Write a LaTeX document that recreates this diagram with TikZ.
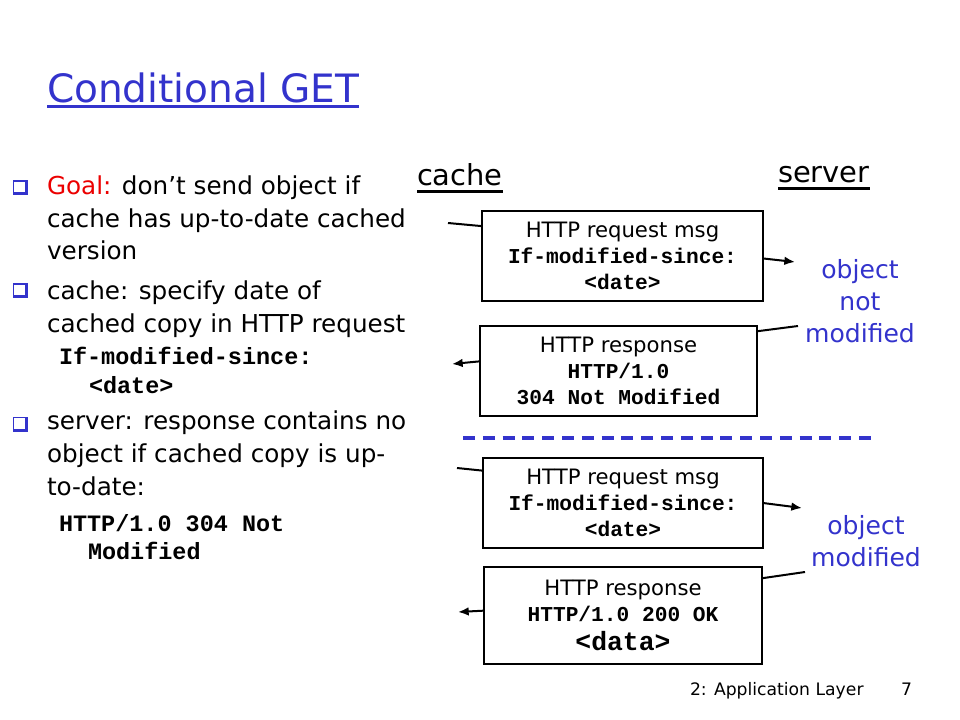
\documentclass[tikz,border=0pt]{standalone}
\usepackage{fontspec}
\setmainfont{DejaVu Sans}
\setmonofont{Liberation Mono}
\usetikzlibrary{arrows.meta}
\definecolor{slideblue}{RGB}{51,51,204}
\definecolor{slidered}{RGB}{235,0,0}

\begin{document}
\begin{tikzpicture}
  [x=0.75pt,y=-0.75pt,every node/.style={inner sep=0pt,outer sep=0pt},
   body/.style={anchor=base west,align=left,font=\fontsize{18.5}{24.4}\selectfont},
   code/.style={anchor=base west,font=\fontsize{17.6}{21}\selectfont\ttfamily\bfseries},
   head/.style={anchor=base west,font=\fontsize{21.7}{26}\selectfont},
   msgbox/.style={draw,line width=0.9pt,align=center,font=\fontsize{15.9}{19.5}\selectfont},
   note/.style={text=slideblue,align=center,font=\fontsize{18.8}{24}\selectfont},
   link/.style={line width=1.5pt},
   arrow/.style={line width=1.5pt,-{Latex[length=8pt,width=6.5pt]}}]
  \useasboundingbox (0,0) rectangle (960,720);

  \node (title)[anchor=base west,text=slideblue,font=\fontsize{29.3}{34}\selectfont] at (47,103) {Conditional GET};
  \draw[slideblue,line width=2.25pt] ([yshift=-3pt]title.base west) -- ([yshift=-3pt]title.base east);

  % bullets
  \foreach \y in {188,291,424} {
    \fill[slideblue] (12.5,\y-7.5) rectangle (27.5,\y+7.5);
    \fill[white] (14,\y-6) rectangle (24.5,\y+4.5);
  }
  % base of a multi-line node is its last line
  \node (goal)[body] at (47,260) {\textcolor{slidered}{Goal:} don’t send object if\\cache has up-to-date cached\\version};
  \node (spec)[body] at (47,332) {cache: specify date of\\cached copy in HTTP request};
  \node (ims)[code] at (59,364) {If-modified-since:};
  \node (imsd)[code] at (89,393) {<date>};
  \node (resp)[body] at (47,495) {server: response contains no\\object if cached copy is up-\\to-date:};
  \node (nm)[code] at (59,531) {HTTP/1.0 304 Not};
  \node (nmd)[code] at (88,559) {Modified};

  \node (cache)[head] at (417,186) {cache};
  \node (server)[head] at (778,183) {server};
  \draw[line width=1.9pt] ([yshift=-4pt]cache.base west) -- ([yshift=-4pt]cache.base east);
  \draw[line width=1.9pt] ([yshift=-4pt]server.base west) -- ([yshift=-4pt]server.base east);

  \node (req1)[msgbox,minimum width=210.75pt,minimum height=67.5pt] at (622.5,256)
    {HTTP request msg\\{\ttfamily\bfseries If-modified-since:}\\{\ttfamily\bfseries <date>}};
  \node (resp1)[msgbox,minimum width=207.75pt,minimum height=67.5pt] at (618.5,371)
    {HTTP response\\{\ttfamily\bfseries HTTP/1.0}\\{\ttfamily\bfseries 304 Not Modified}};
  \node (req2)[msgbox,minimum width=210pt,minimum height=67.5pt] at (623,503)
    {HTTP request msg\\{\ttfamily\bfseries If-modified-since:}\\{\ttfamily\bfseries <date>}};
  \node (resp2)[msgbox,minimum width=208.5pt,minimum height=72.75pt] at (623,615.5)
    {HTTP response\\{\ttfamily\bfseries HTTP/1.0 200 OK}\\[2pt]{\fontsize{19.8}{24}\selectfont\ttfamily\bfseries <data>}};

  \node (same)[note] at (860,301) {object\\not\\modified};
  \node (changed)[note] at (866,541) {object\\modified};

  \draw[slideblue,line width=2.6pt,dash pattern=on 9pt off 5.85pt] (463,438) -- (872,438);

  \coordinate (c1) at (448,223);
  \coordinate (c2) at (795,262);
  \coordinate (c3) at (798,326);
  \coordinate (c4) at (452,364);
  \coordinate (c5) at (457,468);
  \coordinate (c6) at (802,508);
  \coordinate (c7) at (805,572);
  \coordinate (c8) at (458,612);

  \foreach \from/\to in {c1/req1.168,c3/resp1.16,c5/req2.167,c7/resp2.15}
    \draw[link] (\from) -- (\to);
  \foreach \from/\to in {req1.359/c2,resp1.176/c4,req2.east/c6,resp2.178/c8}
    \draw[arrow] (\from) -- (\to);

  \node (chap)[anchor=base west,font=\fontsize{12.9}{15}\selectfont] at (690,695) {2: Application Layer};
  \node (page)[anchor=base west,font=\fontsize{12.9}{15}\selectfont] at (901,695) {7};
\end{tikzpicture}
\end{document}
